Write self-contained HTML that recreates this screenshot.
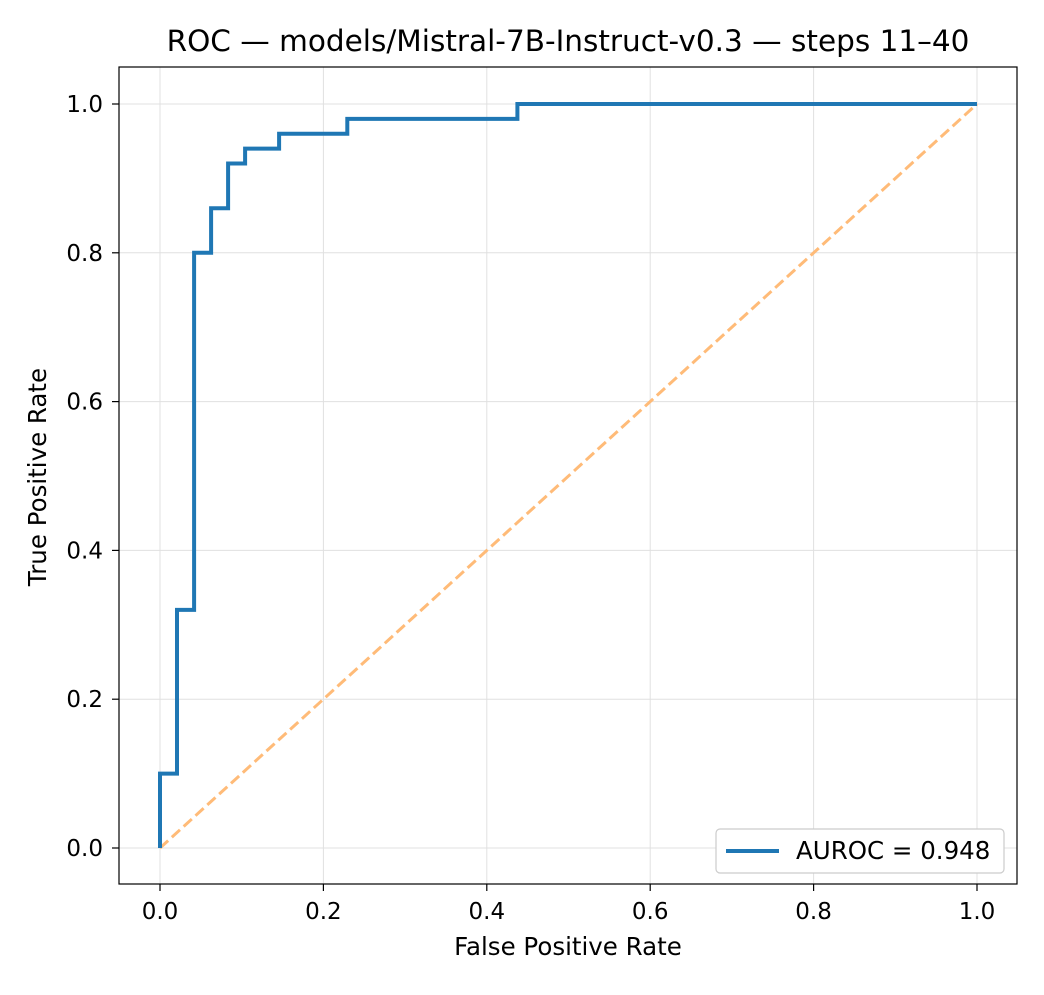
<!DOCTYPE html>
<html><head><meta charset="utf-8"><style>
body{margin:0;background:#fff;font-family:"Liberation Sans","DejaVu Sans",sans-serif;}
svg text{font-family:"DejaVu Sans","Liberation Sans",sans-serif;}
</style></head><body>
<svg id="chart" width="1044" height="990" xmlns="http://www.w3.org/2000/svg">
<rect width="1044" height="990" fill="#fff"/>
<g id="grid"></g>
<g id="axes"></g>
<g id="series"></g>
<rect x="119" y="67" width="898" height="817" fill="none" stroke="#000" stroke-width="1.2"/>
<text x="568" y="51" font-size="29.5" text-anchor="middle">ROC — models/Mistral-7B-Instruct-v0.3 — steps 11–40</text>
<text x="568" y="955" font-size="24.5" text-anchor="middle">False Positive Rate</text>
<text x="46" y="477" font-size="24.5" text-anchor="middle" transform="rotate(-90 46 477)">True Positive Rate</text>
<g>
<rect x="716" y="829" width="288" height="44" rx="4" fill="#fff" stroke="#ccc" stroke-width="1.2"/>
<line x1="726" y1="851" x2="779" y2="851" stroke="#1f77b4" stroke-width="4"/>
<text x="796" y="859" font-size="24.5">AUROC = 0.948</text>
</g>
</svg>
<script>
const fpr = [0, 0, 0.0208, 0.0208, 0.0417, 0.0417, 0.0625, 0.0625, 0.0833, 0.0833, 0.1042, 0.1042, 0.1458, 0.1458, 0.2292, 0.2292, 0.4375, 0.4375, 1];
const tpr = [0, 0.1, 0.1, 0.32, 0.32, 0.8, 0.8, 0.86, 0.86, 0.92, 0.92, 0.94, 0.94, 0.96, 0.96, 0.98, 0.98, 1, 1];
const xTicks = [0, 0.2, 0.4, 0.6, 0.8, 1.0];
const yTicks = [0, 0.2, 0.4, 0.6, 0.8, 1.0];
const NS = "http://www.w3.org/2000/svg";
const X = v => 160 + v * 817;
const Y = v => 848 - v * 744;
function mk(tag, attrs, parent) {
  const e = document.createElementNS(NS, tag);
  for (const k in attrs) e.setAttribute(k, attrs[k]);
  parent.appendChild(e); return e;
}
const grid = document.getElementById('grid'), axes = document.getElementById('axes'), series = document.getElementById('series');
xTicks.forEach(t => {
  const g = mk('line', {x1: X(t), x2: X(t), y1: 67, y2: 884, stroke: '#e0e0e0', 'stroke-width': 1}, grid);
  
  
  const tk = mk('line', {x1: X(t), x2: X(t), y1: 884, y2: 891, stroke: '#000', 'stroke-width': 1.2}, axes);
  
  
  const tx = mk('text', {x: X(t), y: 919, 'font-size': 23, 'text-anchor': 'middle'}, axes);
  tx.textContent = t.toFixed(1);
  
  
});
yTicks.forEach(t => {
  const g = mk('line', {x1: 119, x2: 1017, y1: Y(t), y2: Y(t), stroke: '#e0e0e0', 'stroke-width': 1}, grid);
  
  
  const tk = mk('line', {x1: 112, x2: 119, y1: Y(t), y2: Y(t), stroke: '#000', 'stroke-width': 1.2}, axes);
  
  
  const tx = mk('text', {x: 103, y: Y(t) + 8, 'font-size': 23, 'text-anchor': 'end'}, axes);
  tx.textContent = t.toFixed(1);
  
  
});
const diag = mk('line', {x1: X(0), y1: Y(0), x2: X(1), y2: Y(1), stroke: '#ffbb78', 'stroke-width': 3, 'stroke-dasharray': '11,5'}, series);


const pts = fpr.map((f, i) => X(f).toFixed(1) + ',' + Y(tpr[i]).toFixed(1)).join(' ');
const roc = mk('polyline', {points: pts, fill: 'none', stroke: '#1f77b4', 'stroke-width': 4, 'stroke-linejoin': 'miter'}, series);


</script>
</body></html>
